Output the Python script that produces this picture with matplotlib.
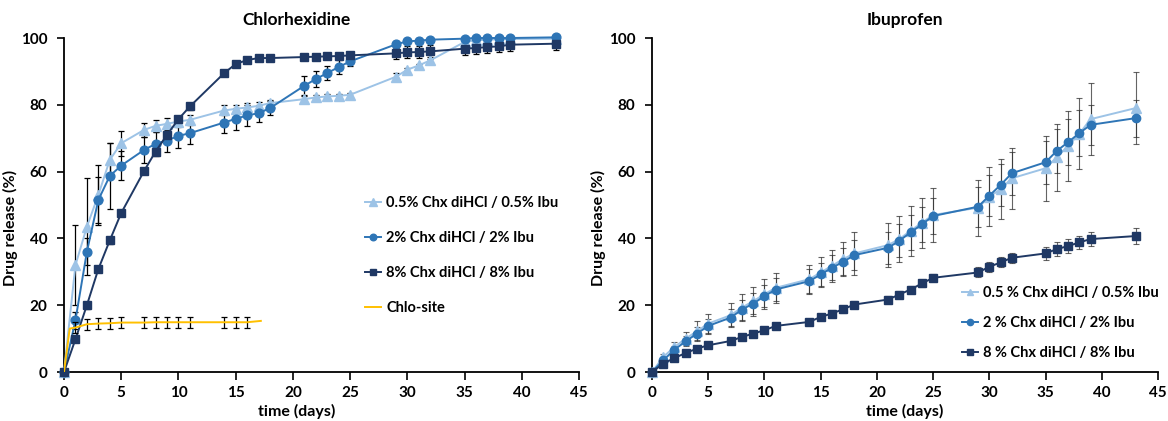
import matplotlib
matplotlib.use('Agg')
import matplotlib.pyplot as plt
import numpy as np

plt.rcParams['font.family'] = ['Lato', 'DejaVu Sans']
plt.rcParams['font.weight'] = 'bold'

# ---------------- data ----------------
days = [0, 1, 2, 3, 4, 5, 7, 8, 9, 10, 11, 14, 15, 16, 17, 18, 21, 22, 23, 24, 25,
        29, 30, 31, 32, 35, 36, 37, 38, 39, 43]

# Chlorhexidine release (%)
chx_05 = [0, 32, 43.5, 53, 63.5, 68.5, 72.5, 73.7, 74.3, 75, 75.5, 78.3, 78.8, 79.2, 79.7, 80.5,
          81.7, 82.2, 82.5, 82.7, 83, 88.4, 90.5, 91.8, 93.3, 98.8, 99.3, 99.5, 99.6, 99.7, 99.8]
chx_05_err = [0, 12, 14.5, 9, 5, 3.7, 2.2, 1.8, 1.6, 1.5, 1.5, 1.5, 1.2, 1.2, 1, 1, 0.8, 0.7, 0.6,
              0.5, 0.5, 1, 0.6, 0.5, 0.5, 0.5, 0.4, 0.4, 0.4, 0.4, 0.4]
chx_2 = [0, 15.5, 36, 51.5, 58.7, 61.8, 66.5, 68.3, 69.3, 70.7, 71.5, 74.7, 75.8, 76.8, 77.5, 79,
         85.7, 87.7, 89.5, 91.3, 93, 98.1, 99, 99.2, 99.5, 99.8, 100, 100, 100, 100, 100.2]
chx_2_err = [0, 2.5, 4, 7, 9.8, 4.3, 3.8, 3.5, 3.3, 3.7, 3.2, 3.2, 3.2, 3, 2.5, 2, 2.8, 2.3, 2,
             2, 1.5, 1, 0.8, 0.7, 0.6, 0.5, 0.5, 0.5, 0.5, 0.5, 0.5]
chx_8 = [0, 9.8, 20, 30.8, 39.4, 47.6, 60.2, 66, 71, 75.7, 79.5, 89.5, 92.2, 93.4, 94, 94, 94.3,
         94.4, 94.5, 94.6, 94.8, 95.4, 95.7, 95.8, 96, 96.8, 97, 97.3, 97.5, 98, 98.3]
chx_8_err = [0, 0.8, 1, 1, 1, 1, 1, 1, 1.2, 1, 1, 1, 1, 0.8, 0.8, 0.8, 0.8, 0.8, 0.8, 0.8, 0.8,
             1.8, 1.8, 1.8, 1.8, 1.8, 1.8, 1.8, 1.8, 1.8, 1.8]

chlo_days = [0, 0.5, 1, 2, 3, 4, 5, 7, 8, 9, 10, 11, 14, 15, 16, 17.2]
chlo = [0, 13.0, 13.3, 14.3, 14.5, 14.6, 14.8, 14.8, 14.9, 14.9, 14.9, 14.9, 14.9, 14.9, 14.9, 15.3]
chlo_err = [0, 0, 1.7, 1.7, 1.7, 1.7, 1.7, 1.7, 1.7, 1.7, 1.7, 1.7, 1.7, 1.7, 1.7, 0]

# Ibuprofen release (%)
ibu_05 = [0, 4.5, 7.5, 10, 12.2, 14.5, 17, 19.3, 21.2, 23.3, 25.2, 27.8, 29.8, 31.8, 33.8, 35.5,
          38, 39.8, 42.3, 44.7, 47, 49.2, 52.5, 54.7, 58, 61, 64.3, 67.7, 71.3, 75.7, 79]
ibu_05_err = [0, 1, 1.5, 2, 3, 3, 3.6, 4, 4.3, 4.5, 4.5, 4.3, 4.5, 4.8, 5, 6.5, 6.7, 7, 7.5, 7.5,
              8, 8.4, 8.9, 9, 9.2, 9.7, 10, 10.5, 10.6, 10.8, 10.8]
ibu_2 = [0, 3.5, 6.7, 9.2, 11.5, 13.8, 16.3, 18.7, 20.5, 22.7, 24.7, 27.2, 29.2, 31.2, 33, 35,
         37.2, 39.3, 41.8, 44.2, 46.7, 49.5, 52.8, 56, 59.5, 62.8, 66.2, 68.8, 71.5, 74, 76]
ibu_2_err = [0, 0.8, 1.2, 1.5, 2, 2.2, 2.5, 3, 3.2, 3.3, 3.3, 3.5, 3.5, 3.8, 4, 4.5, 4.8, 5, 5.2,
             5.2, 5.5, 6, 6.2, 6.2, 6.5, 6.5, 6.5, 6.8, 6.8, 6, 5.5]
ibu_8 = [0, 2.5, 4.2, 5.7, 7, 8, 9.3, 10.5, 11.5, 12.5, 13.8, 15, 16.5, 17.5, 18.8, 20.2, 21.7,
         23.2, 24.7, 26.5, 28.2, 29.8, 31.5, 32.8, 34.2, 35.5, 36.8, 37.7, 38.8, 39.8, 40.7]
ibu_8_err = [0, 0.8, 0.8, 0.8, 0.8, 0.8, 0.8, 0.8, 0.8, 0.8, 0.8, 1, 1, 1, 1, 1, 1, 1, 1, 1, 1,
             1.5, 1.5, 1.5, 1.5, 2, 2, 2, 2, 2, 2.3]

labels_left = ['0.5% Chx diHCl / 0.5% Ibu', '2% Chx diHCl / 2% Ibu', '8% Chx diHCl / 8% Ibu', 'Chlo-site']
labels_right = ['0.5 % Chx diHCl / 0.5% Ibu', '2 % Chx diHCl / 2% Ibu', '8 % Chx diHCl / 8% Ibu']
xticks = list(range(0, 46, 5))
yticks = list(range(0, 101, 20))

# ---------------- styles ----------------
C_LIGHT = '#9DC3E6'
C_MID = '#2E75B6'
C_DARK = '#1F3864'
C_YEL = '#FFC000'

fig = plt.figure(figsize=(11.68, 4.21), dpi=100)
ax1 = fig.add_axes([64 / 1168, 49 / 421, 515 / 1168, 334 / 421])
ax2 = fig.add_axes([652 / 1168, 49 / 421, 506 / 1168, 334 / 421])


def style(ax, title, xc):
    ax.set_xlim(0, 45)
    ax.set_ylim(0, 100)
    ax.set_xticks(xticks)
    ax.set_yticks(yticks)
    for s in ['top', 'right']:
        ax.spines[s].set_visible(False)
    for s in ['left', 'bottom']:
        ax.spines[s].set_linewidth(1.3)
        ax.spines[s].set_color('black')
    ax.tick_params(axis='x', direction='out', length=6, width=1.2, labelsize=11, pad=4)
    ax.tick_params(axis='y', direction='out', length=5, width=1.2, labelsize=11, pad=7)
    for lbl in ax.get_xticklabels() + ax.get_yticklabels():
        lbl.set_fontweight('bold')
    ax.text(xc, 1.0 + 18 / 334, title, transform=ax.transAxes, ha='center', va='center',
            fontsize=12.5, fontweight='bold')
    ax.set_xlabel('time (days)', fontsize=11.5, fontweight='bold', labelpad=1)
    ax.xaxis.set_label_coords(xc, -0.095)
    ax.set_ylabel('Drug release (%)', fontsize=11.5, fontweight='bold', labelpad=2)
    ax.yaxis.label.set_y(0.43)


series_left = [
    (chx_05, chx_05_err, C_LIGHT, '^', 7),
    (chx_2, chx_2_err, C_MID, 'o', 6.3),
    (chx_8, chx_8_err, C_DARK, 's', 6.3),
]
handles = []
for vals, err, col, mk, ms in series_left:
    ax1.errorbar(days, vals, yerr=err, fmt='none', ecolor='black', elinewidth=0.9,
                 capsize=2, capthick=0.9, zorder=2, clip_on=False)
    h, = ax1.plot(days, vals, color=col, marker=mk, markersize=ms, linewidth=1.4,
                  zorder=3, clip_on=False)
    handles.append(h)

cd = np.array(chlo_days)
cv = np.array(chlo)
ce = np.array(chlo_err)
m = ce > 0
ax1.errorbar(cd[m], cv[m], yerr=ce[m], fmt='none', ecolor='black', elinewidth=0.9,
             capsize=2, capthick=0.9, zorder=4)
h, = ax1.plot(cd, cv, color=C_YEL, linewidth=1.4, zorder=5)
handles.append(h)

style(ax1, 'Chlorhexidine', 0.452)
ax1.legend(handles, labels_left, loc='upper left', bbox_to_anchor=(0.585, 0.528),
           frameon=False, handlelength=1.1, handletextpad=0.35,
           labelspacing=1.45, borderpad=0, borderaxespad=0, markerscale=0.75,
           prop={'weight': 'bold', 'size': 10.5})

series_right = [
    (ibu_05, ibu_05_err, C_LIGHT, '^', 6.5),
    (ibu_2, ibu_2_err, C_MID, 'o', 6),
    (ibu_8, ibu_8_err, C_DARK, 's', 6),
]
handles2 = []
for vals, err, col, mk, ms in series_right:
    ax2.errorbar(days, vals, yerr=err, fmt='none', ecolor='#303030', elinewidth=0.8,
                 capsize=2, capthick=0.8, alpha=0.75, zorder=2, clip_on=False)
    h, = ax2.plot(days, vals, color=col, marker=mk, markersize=ms, linewidth=1.4,
                  zorder=3, clip_on=False)
    handles2.append(h)

style(ax2, 'Ibuprofen', 0.5)
ax2.legend(handles2, labels_right, loc='upper left', bbox_to_anchor=(0.612, 0.258),
           frameon=False, handlelength=1.1, handletextpad=0.35,
           labelspacing=1.1, borderpad=0, borderaxespad=0, markerscale=0.75,
           prop={'weight': 'bold', 'size': 10.5})

fig.savefig('out.png', dpi=100)
